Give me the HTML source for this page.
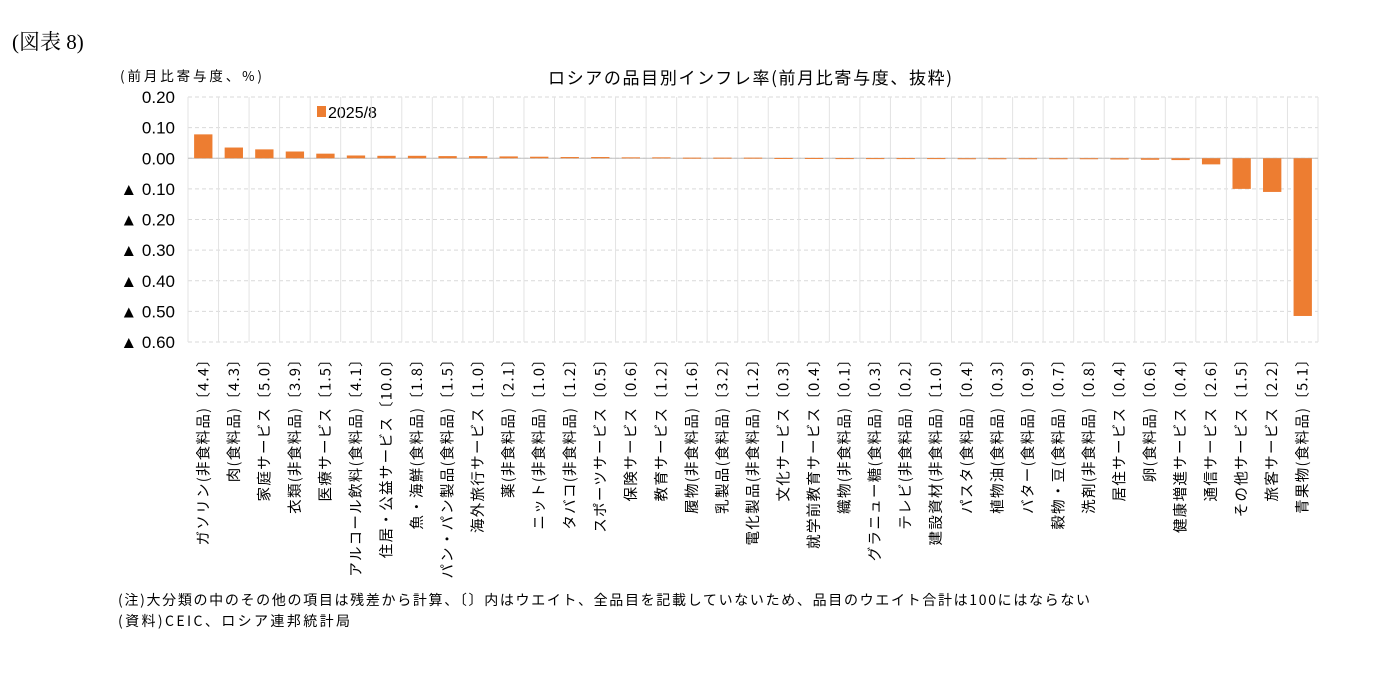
<!DOCTYPE html>
<html><head><meta charset="utf-8"><style>
body{margin:0;background:#fff;width:1390px;height:668px;overflow:hidden;font-family:"Liberation Sans","Noto Sans CJK JP",sans-serif;}
</style></head><body>
<svg id="c" width="1390" height="668" xmlns="http://www.w3.org/2000/svg">
<text x="12" y="49" font-family="'Liberation Serif','Noto Serif CJK SC',serif" font-size="21" fill="#000">(図表 8)</text>
<text x="120" y="81" font-size="13.5" font-family="'Noto Sans CJK JP',sans-serif" fill="#000" textLength="142">(前月比寄与度、%)</text>
<text x="548" y="84" font-size="17" font-family="'Noto Sans CJK JP',sans-serif" fill="#000" textLength="404">ロシアの品目別インフレ率(前月比寄与度、抜粋)</text>
<rect x="317" y="106" width="9" height="11" fill="#ED7D31"/>
<text x="328" y="118" font-size="16" fill="#000">2025/8</text>
<text x="118" y="605" font-size="14" font-family="'Noto Sans CJK JP',sans-serif" fill="#000" textLength="972">(注)大分類の中のその他の項目は残差から計算、〔〕内はウエイト、全品目を記載していないため、品目のウエイト合計は100にはならない</text>
<text x="118" y="626" font-size="14" font-family="'Noto Sans CJK JP',sans-serif" fill="#000" textLength="232">(資料)CEIC、ロシア連邦統計局</text>
<g id="g"></g>
</svg>
<script>
const categories=["ガソリン(非食料品)〔4.4〕","肉(食料品)〔4.3〕","家庭サービス〔5.0〕","衣類(非食料品)〔3.9〕","医療サービス〔1.5〕","アルコール飲料(食料品)〔4.1〕","住居・公益サービス〔10.0〕","魚・海鮮(食料品)〔1.8〕","パン・パン製品(食料品)〔1.5〕","海外旅行サービス〔1.0〕","薬(非食料品)〔2.1〕","ニット(非食料品)〔1.0〕","タバコ(非食料品)〔1.2〕","スポーツサービス〔0.5〕","保険サービス〔0.6〕","教育サービス〔1.2〕","履物(非食料品)〔1.6〕","乳製品(食料品)〔3.2〕","電化製品(非食料品)〔1.2〕","文化サービス〔0.3〕","就学前教育サービス〔0.4〕","織物(非食料品)〔0.1〕","グラニュー糖(食料品)〔0.3〕","テレビ(非食料品)〔0.2〕","建設資材(非食料品)〔1.0〕","パスタ(食料品)〔0.4〕","植物油(食料品)〔0.3〕","バター(食料品)〔0.9〕","穀物・豆(食料品)〔0.7〕","洗剤(非食料品)〔0.8〕","居住サービス〔0.4〕","卵(食料品)〔0.6〕","健康増進サービス〔0.4〕","通信サービス〔2.6〕","その他サービス〔1.5〕","旅客サービス〔2.2〕","青果物(食料品)〔5.1〕"];
const values=[0.078,0.035,0.029,0.022,0.015,0.009,0.008,0.008,0.007,0.007,0.006,0.005,0.004,0.004,0.003,0.003,0.002,0.002,0.002,0.001,0.001,0.0005,0.0005,0.0005,0.0005,-0.001,-0.002,-0.002,-0.002,-0.003,-0.004,-0.005,-0.006,-0.02,-0.10,-0.11,-0.515];
const ticks=[0.2,0.1,0,-0.1,-0.2,-0.3,-0.4,-0.5,-0.6];
const tickLabels=["0.20","0.10","0.00","▲ 0.10","▲ 0.20","▲ 0.30","▲ 0.40","▲ 0.50","▲ 0.60"];
const NS="http://www.w3.org/2000/svg",g=document.getElementById('g');
const L=188,R=1318,T=97,B=342,yMax=0.2,yMin=-0.6;
const y=v=>T+(yMax-v)/(yMax-yMin)*(B-T);
const bw=(R-L)/categories.length;
const x=i=>L+bw*i;
function mk(t,a){const e=document.createElementNS(NS,t);for(const k in a)e.setAttribute(k,a[k]);g.appendChild(e);return e;}
ticks.forEach((t,i)=>{
 const l=mk('line',{x1:L,x2:R,y1:y(t),y2:y(t),stroke:'#d9d9d9','stroke-dasharray':'4,3'});
 
 
 const tx=mk('text',{x:175,y:y(t)+6,'font-size':17,'text-anchor':'end',fill:'#000'});
 tx.textContent=tickLabels[i];
 
 
});
for(let i=0;i<=categories.length;i++){
 const l=mk('line',{x1:x(i),x2:x(i),y1:T,y2:B,stroke:'#e3e3e3'});
 
 
}
const z=mk('line',{x1:L,x2:R,y1:y(0),y2:y(0),stroke:'#bfbfbf'});


values.forEach((v,i)=>{
 const y0=y(0),y1=y(v);
 const r=mk('rect',{x:x(i)+bw*0.2,width:bw*0.6,y:Math.min(y0,y1),height:Math.max(Math.abs(y1-y0),1),fill:'#ED7D31'});
 
 
 const cx=x(i)+bw/2+5;
 const t=mk('text',{x:cx,y:351,'font-size':14.5,'letter-spacing':1.3,'font-family':"'Noto Sans CJK JP',sans-serif",'text-anchor':'end',fill:'#000',transform:`rotate(-90 ${cx} 351)`});
 t.textContent=categories[i];
 
 
});
</script>
</body></html>
